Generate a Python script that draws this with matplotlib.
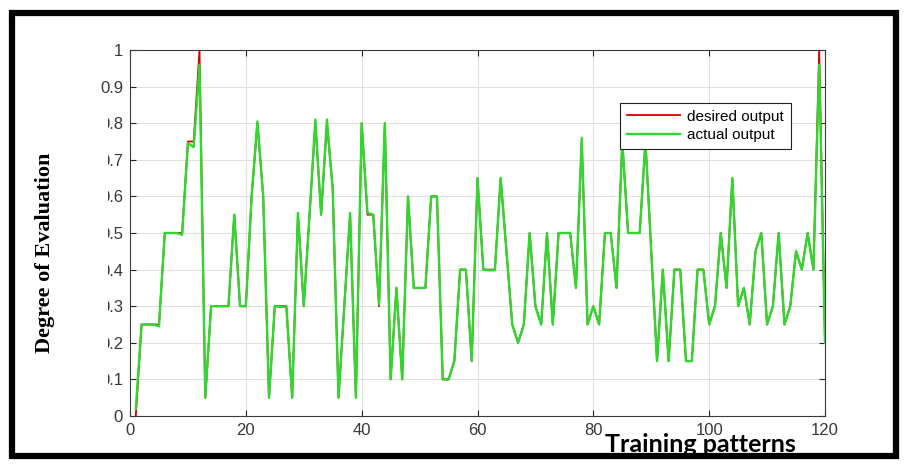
import matplotlib
matplotlib.use("Agg")
import matplotlib.pyplot as plt
from matplotlib.patches import Rectangle
import numpy as np

patterns = list(range(1, 121))

desired = [0.0, 0.25, 0.25, 0.25, 0.25, 0.5, 0.5, 0.5, 0.5, 0.75,
           0.75, 1.0, 0.05, 0.3, 0.3, 0.3, 0.3, 0.55, 0.3, 0.3,
           0.6, 0.8, 0.6, 0.05, 0.3, 0.3, 0.3, 0.05, 0.55, 0.3,
           0.55, 0.8, 0.55, 0.8, 0.62, 0.05, 0.3, 0.55, 0.05, 0.8,
           0.55, 0.55, 0.3, 0.8, 0.1, 0.35, 0.1, 0.6, 0.35, 0.35,
           0.35, 0.6, 0.6, 0.1, 0.1, 0.15, 0.4, 0.4, 0.15, 0.65,
           0.4, 0.4, 0.4, 0.65, 0.45, 0.25, 0.2, 0.25, 0.5, 0.3,
           0.25, 0.5, 0.25, 0.5, 0.5, 0.5, 0.35, 0.75, 0.25, 0.3,
           0.25, 0.5, 0.5, 0.35, 0.75, 0.5, 0.5, 0.5, 0.75, 0.45,
           0.15, 0.4, 0.15, 0.4, 0.4, 0.15, 0.15, 0.4, 0.4, 0.25,
           0.3, 0.5, 0.35, 0.65, 0.3, 0.35, 0.25, 0.45, 0.5, 0.25,
           0.3, 0.5, 0.25, 0.3, 0.45, 0.4, 0.5, 0.4, 1.0, 0.2]

actual = [0.02, 0.25, 0.25, 0.25, 0.245, 0.5, 0.5, 0.5, 0.495, 0.745,
          0.735, 0.96, 0.05, 0.3, 0.3, 0.3, 0.3, 0.55, 0.3, 0.3,
          0.6, 0.805, 0.6, 0.05, 0.3, 0.298, 0.298, 0.05, 0.555, 0.3,
          0.55, 0.81, 0.55, 0.81, 0.62, 0.05, 0.3, 0.555, 0.05, 0.8,
          0.555, 0.55, 0.305, 0.8, 0.1, 0.35, 0.1, 0.6, 0.35, 0.35,
          0.35, 0.6, 0.6, 0.1, 0.1, 0.15, 0.4, 0.4, 0.15, 0.65,
          0.4, 0.398, 0.398, 0.65, 0.45, 0.25, 0.2, 0.25, 0.5, 0.3,
          0.25, 0.5, 0.25, 0.5, 0.5, 0.5, 0.35, 0.76, 0.25, 0.3,
          0.25, 0.5, 0.5, 0.35, 0.75, 0.5, 0.5, 0.5, 0.75, 0.45,
          0.15, 0.4, 0.15, 0.4, 0.4, 0.15, 0.15, 0.4, 0.4, 0.25,
          0.3, 0.5, 0.35, 0.65, 0.3, 0.35, 0.25, 0.45, 0.5, 0.25,
          0.3, 0.5, 0.25, 0.3, 0.45, 0.4, 0.5, 0.4, 0.96, 0.2]

x_ticks = [0, 20, 40, 60, 80, 100, 120]
y_ticks = [0, 0.1, 0.2, 0.3, 0.4, 0.5, 0.6, 0.7, 0.8, 0.9, 1]
y_tick_labels = ["0", "0.1", "0.2", "0.3", "0.4", "0.5", "0.6", "0.7", "0.8", "0.9", "1"]

W, H = 905, 467
fig = plt.figure(figsize=(W / 100, H / 100), dpi=100)
fig.patch.set_facecolor("white")

L, R, T, B = 130, 825, 50, 416
ax = fig.add_axes([L / W, 1 - B / H, (R - L) / W, (B - T) / H])

ax.plot(patterns, desired, color="#d40000", lw=1.3, label="desired output", zorder=3)
ax.plot(patterns, actual, color="#2ed82e", lw=1.7, label="actual output", zorder=4)

ax.set_xlim(0, 120)
ax.set_ylim(0, 1)
ax.set_xticks(x_ticks)
ax.set_yticks(y_ticks)
ax.set_yticklabels(y_tick_labels)
ax.grid(True, color="#e0e0e0", lw=0.7)
ax.set_axisbelow(True)
for s in ax.spines.values():
    s.set_color("#3a3a3a")
    s.set_linewidth(0.8)
ax.tick_params(direction="in", top=True, right=True, length=4, width=0.8,
               colors="#262626", labelsize=12, pad=5)
for lab in ax.get_xticklabels() + ax.get_yticklabels():
    lab.set_fontfamily("Liberation Sans")
    lab.set_color("#383838")

leg = ax.legend(loc="upper left", bbox_to_anchor=(0.705, 0.856), borderaxespad=0,
                frameon=True, fancybox=False, edgecolor="#202020", framealpha=1,
                prop={"family": "Liberation Sans", "size": 11}, handlelength=3.5,
                borderpad=0.45, labelspacing=0.3, handletextpad=0.45)
leg.get_frame().set_linewidth(0.8)

# white patch covering the left part of y tick labels (pasted label box)
fig.patches.append(Rectangle((18 / W, 1 - 400 / H), (108 - 18) / W, (400 - 105) / H,
                             transform=fig.transFigure, facecolor="white",
                             edgecolor="none", zorder=5))

fig.text(45 / W, 1 - 253 / H, "Degree of Evaluation", rotation=90, ha="center",
         va="center", fontsize=16, fontweight="bold", family="Liberation Serif",
         color="black", zorder=6)
fig.text(700 / W, 1 - 444 / H, "Training patterns", ha="center", va="center",
         fontsize=18, fontweight="bold", family="Lato", color="black", zorder=6)

# thick black frame around the figure
fig.patches.append(Rectangle((12 / W, 1 - 456 / H), (896 - 12) / W, (456 - 12.5) / H,
                             transform=fig.transFigure, facecolor="none",
                             edgecolor="black", lw=4.5, zorder=10))

fig.savefig("out.png", dpi=100)
